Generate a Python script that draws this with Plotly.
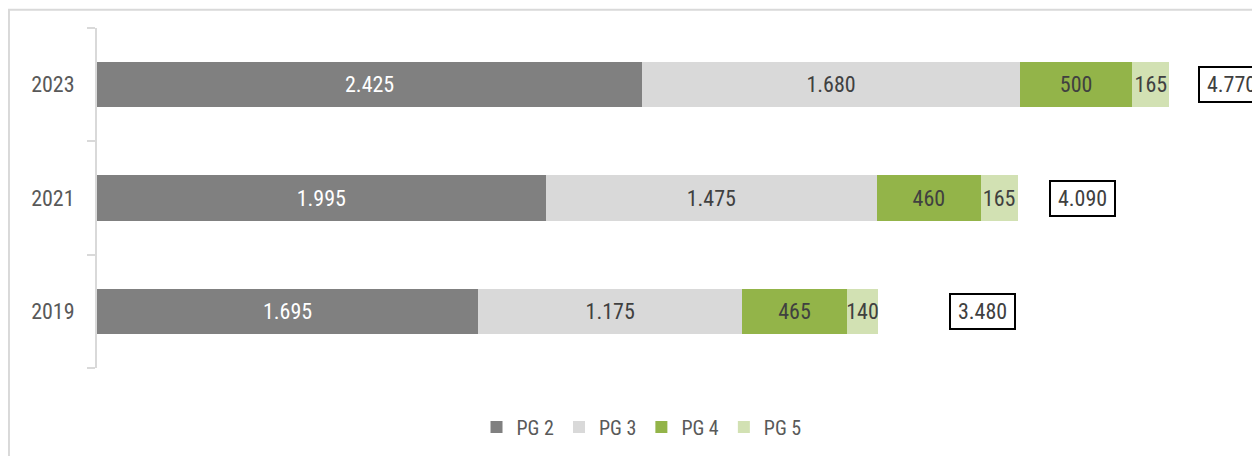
import plotly.graph_objects as go

years = ["2019", "2021", "2023"]
pg2 = [1695, 1995, 2425]
pg3 = [1175, 1475, 1680]
pg4 = [465, 460, 500]
pg5 = [140, 165, 165]
totals = [3480, 4090, 4770]
series_names = ["PG 2", "PG 3", "PG 4", "PG 5"]
series_values = [pg2, pg3, pg4, pg5]
colors = ["#808080", "#d9d9d9", "#93b449", "#d2e1b3"]
text_colors = ["#ffffff", "#404040", "#404040", "#404040"]
total_xshift = [103, 66, 62]

FONT = "Liberation Sans Narrow, Arial Narrow, Roboto Condensed, Liberation Sans, sans-serif"

fig = go.Figure()
for name, vals, col, tcol in zip(series_names, series_values, colors, text_colors):
    fig.add_trace(go.Bar(
        name=name, y=years, x=vals, orientation="h",
        marker=dict(color=col, line=dict(width=0)),
        text=vals, texttemplate="%{x:,}",
        textposition="inside", insidetextanchor="middle",
        constraintext="none", textangle=0,
        textfont=dict(family=FONT, size=22, color=tcol),
        hoverinfo="skip",
    ))

for i, (tot, xs) in enumerate(zip(totals, total_xshift)):
    fig.add_annotation(
        x=tot, y=i, xref="x", yref="y",
        text=f"{tot:,}".replace(",", "."),
        showarrow=False, xanchor="center", yanchor="middle", xshift=xs,
        font=dict(family=FONT, size=22, color="#404040"),
        bordercolor="#000000", borderwidth=2, borderpad=1,
        width=61, height=31, bgcolor="#ffffff",
    )

fig.add_shape(type="rect", xref="paper", yref="paper",
              x0=-0.0757, x1=1.05, y0=-0.5, y1=1.054,
              line=dict(color="#d9d9d9", width=2), layer="above")

fig.update_layout(
    width=1252, height=448,
    margin=dict(l=89, r=0, t=20, b=88),
    paper_bgcolor="#ffffff", plot_bgcolor="#ffffff",
    barmode="stack", bargap=0.6,
    separators=",.",
    showlegend=True,
    legend=dict(orientation="h", xref="container", yref="container",
                x=0.506, y=0.0647, xanchor="center", yanchor="middle",
                font=dict(family=FONT, size=20, color="#595959"),
                itemwidth=30, traceorder="normal"),
    xaxis=dict(range=[0, 5173], visible=False, showgrid=False, zeroline=False),
    yaxis=dict(type="category", range=[-0.5, 2.5], autorange=False,
               showline=True, linecolor="#d9d9d9", linewidth=2,
               ticks="outside", tickson="boundaries", ticklen=8, tickcolor="#d9d9d9",
               tickwidth=2, showgrid=False, zeroline=False,
               tickfont=dict(family=FONT, size=22, color="#595959"),
               ticklabelstandoff=16),
    font=dict(family=FONT),
)

fig.write_html("out.html")
